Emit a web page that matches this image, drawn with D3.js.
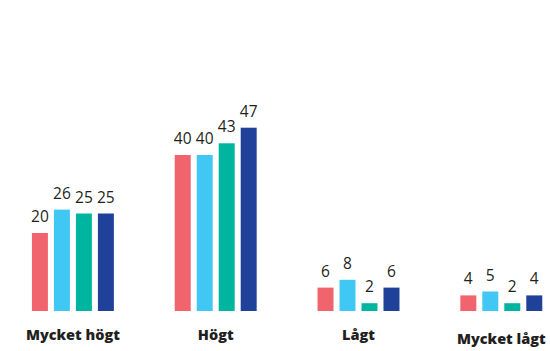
<!DOCTYPE html>
<html>
<head>
<meta charset="utf-8">
<script src="https://cdn.jsdelivr.net/npm/d3@7"></script>
<style>
  html, body { margin: 0; padding: 0; background: #fff; }
  svg { display: block; }
  .value { font-family: "Open Sans", Lato, sans-serif; font-size: 15.5px; font-weight: 500; fill: #231f20; }
  .cat { font-family: "Open Sans", Lato, sans-serif; font-size: 14.5px; font-weight: 800; fill: #231f20; }
</style>
</head>
<body>
<svg id="chart" width="550" height="351"></svg>
<script>
// Categories along the x axis
const categories = ["Mycket högt", "Högt", "Lågt", "Mycket lågt"];
// Four series, one bar per category each
const seriesKeys = ["s1", "s2", "s3", "s4"];
const series1 = [20, 40, 6, 4];
const series2 = [26, 40, 8, 5];
const series3 = [25, 43, 2, 2];
const series4 = [25, 47, 6, 4];
const seriesValues = [series1, series2, series3, series4];
const seriesColors = ["#f1646d", "#41c7f4", "#00b5a0", "#1f4199"];

const W = 550, H = 351;
const svg = d3.select("#chart");

const x0 = d3.scaleBand()
  .domain(categories)
  .range([1.5, 572.7])
  .paddingInner(0.426)
  .paddingOuter(0.213);

const x1 = d3.scaleBand()
  .domain(seriesKeys)
  .range([0, x0.bandwidth()])
  .paddingInner(6 / 22)
  .paddingOuter(0);

const y = d3.scaleLinear().domain([0, 50]).range([311, 116]);

const rows = categories.map((c, i) => ({
  category: c,
  bars: seriesKeys.map((k, j) => ({ key: k, value: seriesValues[j][i], color: seriesColors[j] }))
}));

const groups = svg.selectAll("g.group")
  .data(rows)
  .join("g")
  .attr("class", "group")
  .attr("transform", d => `translate(${x0(d.category)},0)`);

groups.selectAll("rect")
  .data(d => d.bars)
  .join("rect")
  .attr("x", d => x1(d.key))
  .attr("width", x1.bandwidth())
  .attr("y", d => y(d.value))
  .attr("height", d => y(0) - y(d.value))
  .attr("fill", d => d.color);

groups.selectAll("text.value")
  .data(d => d.bars)
  .join("text")
  .attr("class", "value")
  .attr("x", d => x1(d.key) + x1.bandwidth() / 2)
  .attr("y", d => y(d.value) - 11)
  .attr("text-anchor", "middle")
  .text(d => d.value);

// Category axis without line or ticks
const labelShift = { "Mycket lågt": 4 };
const axis = svg.append("g")
  .attr("transform", `translate(0,${y(0)})`)
  .call(d3.axisBottom(x0).tickSize(0).tickPadding(0));
axis.select(".domain").remove();
axis.selectAll(".tick text")
  .attr("class", "cat")
  .attr("fill", null)
  .attr("dy", null)
  .attr("y", d => 29 + (labelShift[d] || 0));
</script>
</body>
</html>
